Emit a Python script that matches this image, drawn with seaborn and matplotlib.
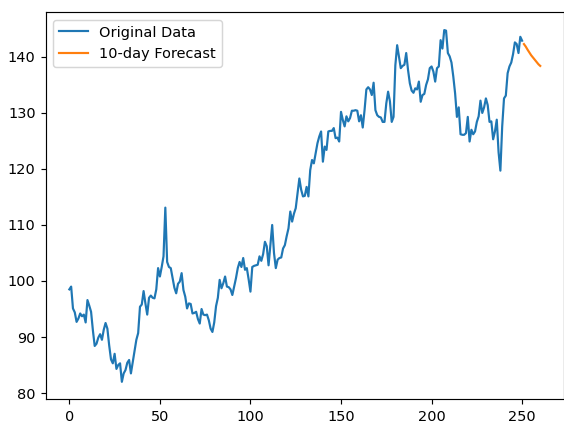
import numpy as np
import matplotlib
matplotlib.use("Agg")
import matplotlib.pyplot as plt
import seaborn as sns

# Daily closing values, one entry per day starting at day 0
original_data = [
    98.5, 99.0, 95.1, 94.4, 92.7, 93.3, 94.2, 93.7, 94.0, 92.6,
    96.6, 95.6, 94.5, 91.2, 88.4, 88.8, 89.9, 90.5, 89.5, 91.3,
    92.5, 91.5, 88.5, 86.0, 85.3, 87.0, 84.3, 85.0, 85.3, 82.0,
    83.5, 84.1, 85.4, 85.9, 83.5, 85.5, 87.6, 89.5, 90.7, 95.4,
    95.8, 98.2, 96.0, 94.0, 97.0, 97.4, 97.0, 96.9, 98.5, 102.3,
    100.8, 102.5, 104.4, 113.1, 103.4, 102.5, 102.3, 100.6, 98.8, 97.8,
    99.5, 99.9, 101.4, 98.4, 97.2, 95.1, 96.0, 95.9, 94.2, 94.3,
    94.5, 93.2, 92.4, 95.0, 94.0, 93.9, 94.0, 93.0, 91.5, 90.9,
    92.6, 95.5, 97.0, 100.2, 98.7, 99.6, 100.8, 99.0, 98.9, 98.5,
    97.5, 99.0, 100.5, 102.3, 103.4, 102.5, 104.1, 102.0, 102.3, 100.3,
    98.1, 102.5, 102.7, 102.8, 102.9, 104.4, 103.6, 104.8, 107.0, 106.2,
    102.8, 106.5, 110.0, 105.0, 102.3, 103.8, 104.1, 104.2, 105.8, 106.4,
    108.0, 109.4, 112.4, 110.6, 112.0, 113.0, 115.7, 118.3, 116.3, 115.1,
    115.2, 116.8, 115.1, 119.8, 121.6, 121.0, 122.8, 124.6, 125.8, 126.7,
    121.3, 124.0, 123.4, 126.7, 126.8, 126.8, 127.3, 125.5, 125.6, 124.9,
    130.2, 128.75, 127.6, 129.4, 128.5, 129.1, 130.4, 130.4, 130.5, 130.4,
    128.5, 129.6, 127.4, 130.5, 134.2, 134.6, 134.2, 133.2, 135.4, 130.5,
    129.6, 129.3, 129.2, 128.4, 128.4, 131.7, 133.8, 132.1, 128.4, 129.3,
    138.5, 142.1, 140.1, 138.0, 138.4, 138.6, 140.7, 137.7, 135.3, 134.0,
    133.6, 134.4, 134.2, 135.6, 132.0, 133.2, 133.4, 135.0, 136.0, 138.0,
    138.3, 137.4, 135.6, 138.0, 138.3, 143.0, 141.5, 144.8, 144.7, 140.7,
    140.1, 139.0, 136.5, 133.5, 129.3, 131.0, 126.2, 126.1, 126.1, 126.4,
    129.3, 124.9, 127.0, 126.2, 126.7, 128.4, 129.4, 132.2, 130.0, 131.0,
    132.6, 131.4, 128.4, 128.5, 125.3, 126.7, 128.8, 123.0, 119.7, 127.6,
    132.6, 133.1, 137.1, 138.3, 139.0, 140.5, 142.6, 142.3, 140.7, 143.6,
    142.9,
]

# Model forecast for the ten days after the last observation
forecast_data = [142.3, 141.85, 141.3, 140.8, 140.3, 139.9, 139.5, 139.1, 138.7, 138.4]

original_days = np.arange(len(original_data))
forecast_days = np.arange(len(original_data), len(original_data) + len(forecast_data))

DPI = 104.4
fig = plt.figure(figsize=(564 / DPI, 423 / DPI), dpi=DPI)
ax = fig.add_axes([0.0812, 0.0558, 0.9184, 0.9147])

sns.lineplot(x=original_days, y=original_data, label="Original Data",
             color="#1f77b4", linewidth=1.5, ax=ax)
sns.lineplot(x=forecast_days, y=forecast_data, label="10-day Forecast",
             color="#ff7f0e", linewidth=1.5, ax=ax)

ax.legend(loc="upper left")

fig.savefig("out.png", dpi=DPI)
